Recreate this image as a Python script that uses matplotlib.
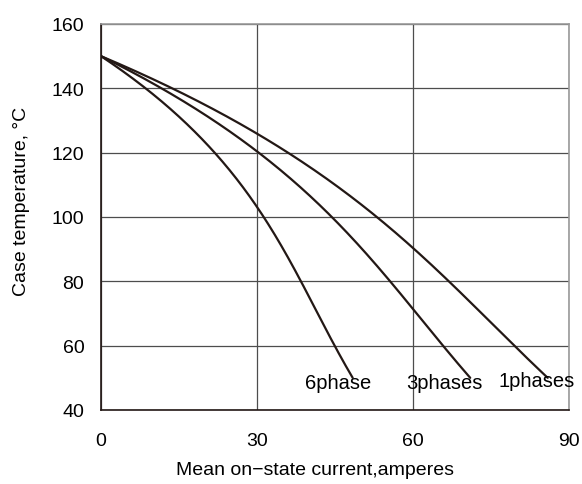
import numpy as np
import matplotlib.pyplot as plt

plt.rcParams['font.family'] = ['Liberation Sans', 'DejaVu Sans']

# curves (current in A, case temperature in C)
x_6ph = [0, 9.4, 16.3, 21.9, 27.3, 30.8, 34.7, 38.7, 45.6, 48.4]
y_6ph = [150, 140, 129.4, 120, 108.7, 100, 90.6, 80, 60, 50]

x_3ph = [0, 12.0, 30, 44.5, 50.0, 55.5, 60, 65.8, 71.0]
y_3ph = [150, 140, 120, 100, 90.6, 80, 71.4, 60, 50]

x_1ph = [0, 14.5, 30, 35.5, 53.0, 60, 66.8, 79.8, 85.9]
y_1ph = [150, 140, 125.9, 120, 100, 90.5, 80, 60, 50]

xticks = [0, 30, 60, 90]
yticks = [40, 60, 80, 100, 120, 140, 160]

def fit_curve(xs, ys):
    # smooth x(y) through the read points, pinned at both ends
    xs = np.array(xs, float); ys = np.array(ys, float)
    w = np.ones_like(xs); w[0] = w[-1] = 20
    c = np.polyfit(ys, xs, 3, w=w)
    yy = np.linspace(ys[0], ys[-1], 300)
    return np.polyval(c, yy), yy

fig = plt.figure(figsize=(5.82, 4.85), dpi=100)
ax = fig.add_axes([0.1735, 0.1526, 0.8042, 0.7959])

lc = '#231815'
for xs, ys in [(x_6ph, y_6ph), (x_3ph, y_3ph), (x_1ph, y_1ph)]:
    sx, sy = fit_curve(xs, ys)
    ax.plot(sx, sy, color=lc, lw=1.6, solid_capstyle='round', zorder=3)

ax.set_xlim(0, 90)
ax.set_ylim(40, 160)
ax.set_xticks(xticks)
ax.set_yticks(yticks)
ax.grid(True, color='#4d4d4d', lw=0.9)
ax.tick_params(length=0, labelsize=14, pad=12, colors='black')
ax.tick_params(axis='x', pad=16)

for s in ['left', 'bottom']:
    ax.spines[s].set_color('#231815')
    ax.spines[s].set_linewidth(1.2)
for s in ['right', 'top']:
    ax.spines[s].set_color('#9a9a9a')
    ax.spines[s].set_linewidth(1.2)

ax.text(45.6, 46.9, '6phase', fontsize=14.5, ha='center', va='baseline')
ax.text(66.1, 46.9, '3phases', fontsize=14.5, ha='center', va='baseline')
ax.text(83.7, 47.5, '1phases', fontsize=14.5, ha='center', va='baseline')

ax.set_xlabel('Mean on\u2212state current,amperes', fontsize=14, va='center')
ax.xaxis.set_label_coords(0.457, -0.155)
ax.set_ylabel('Case temperature, \u00b0C', fontsize=14, va='center')
ax.yaxis.set_label_coords(-0.169, 0.544)

fig.savefig('out.png', dpi=100)
